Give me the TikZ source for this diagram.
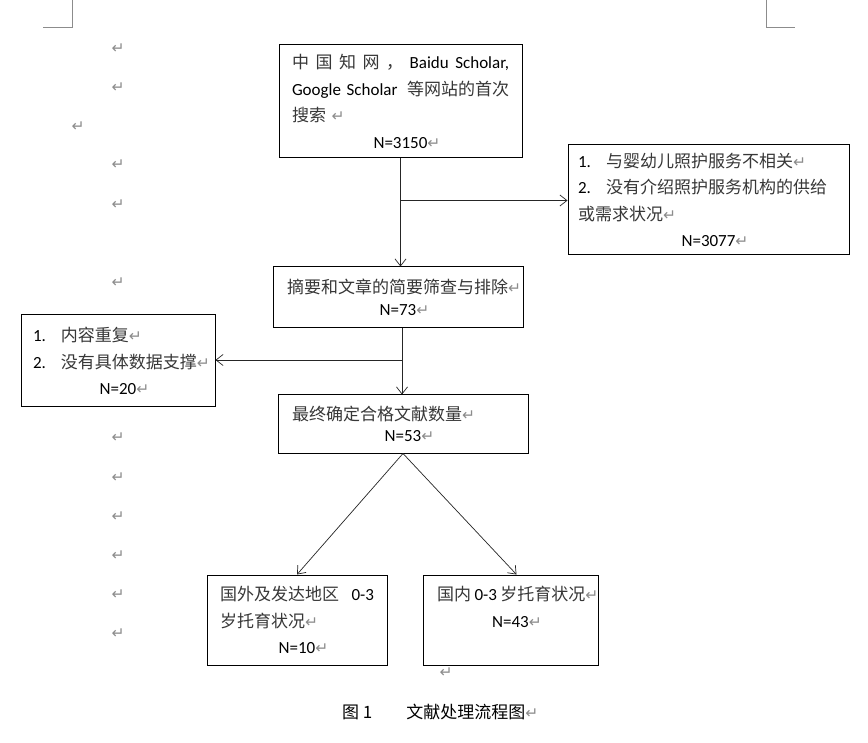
\documentclass[tikz,border=0pt]{standalone}
\usepackage{fontspec}
\setmainfont{Carlito}
\newfontfamily\zhfont{Noto Sans CJK SC}
\newfontfamily\symfont{DejaVu Sans}
\usetikzlibrary{
    arrows.meta,
    positioning,
    calc
}
\definecolor{markgray}{RGB}{140,140,140}
\definecolor{textgray}{RGB}{55,55,55}
% Word paragraph mark, Latin run, list label
\newcommand{\retmark}{{\color{markgray}\symfont\fontsize{15.5}{15.5}\selectfont ↵}}
\newcommand{\lat}[1]{{\normalfont\color{black}#1}}
\newcommand{\enumlabel}[1]{\makebox[28pt][l]{\lat{#1}}}
\newcommand{\countline}[1]{\makebox[\linewidth]{\lat{#1}\rlap{\retmark}}}
\tikzset{
    % --- Flow chart box ---
    block/.style = {
        rectangle, draw, line width=1pt, inner sep=0pt,
        align=left, text=textgray,
        font=\zhfont\fontsize{17}{26.5}\selectfont
    },
    % --- Box with single-spaced lines ---
    tight block/.style = {
        block, font=\zhfont\fontsize{17}{21.5}\selectfont
    },
    % --- Connector with open arrow head ---
    flow arrow/.style = {
        -{Straight Barb[length=7pt,width=11pt]},
        line width=0.7pt, draw=black!85
    },
    % --- Page corner marks ---
    crop mark/.style = {
        draw=markgray, line width=1pt
    },
    % --- Loose paragraph marks ---
    para mark/.style = {
        inner sep=0pt
    }
}
\begin{document}
\begin{tikzpicture}[x=1pt, y=-1pt]

\useasboundingbox (0, 0) rectangle (868, 743);
\fill[white] (0, 0) rectangle (868, 743);

% ---------------------------------------------------------
% Page corners and empty paragraphs
% ---------------------------------------------------------
\draw[crop mark] (43, 28) -- (72, 28) -- (72, 0);
\draw[crop mark] (766, 0) -- (766, 28) -- (795, 28);

\foreach \y [count=\i] in {49, 88, 165, 205, 283, 438, 478, 517, 556, 595, 634}
    \node[para mark] (Ret\i) at (118, \y) {\retmark};
\node[para mark] (RetIndent) at (78, 127) {\retmark};
\node[para mark] (RetEnd) at (446, 673) {\retmark};

% ---------------------------------------------------------
% Search and first exclusion
% ---------------------------------------------------------
\node[block, minimum width=243, minimum height=113, text width=217] (Search) at (400.5, 101.5) {%
    \makebox[\linewidth]{中\hfill 国\hfill 知\hfill 网\hfill ，\hfill\lat{Baidu}\hfill\lat{Scholar,}}\\
    \makebox[\linewidth]{\lat{Google Scholar}\hfill 等网站的首次}\\
    搜索 \retmark\\
    \countline{N=3150}
};

\node[block, minimum width=281, minimum height=110, text width=261] (ExclA) at (708.5, 200) {%
    \enumlabel{1.}与婴幼儿照护服务不相关\retmark\\
    \enumlabel{2.}没有介绍照护服务机构的供给\\
    或需求状况\retmark\\
    \countline{N=3077}
};

% ---------------------------------------------------------
% Screening and second exclusion
% ---------------------------------------------------------
\node[tight block, minimum width=250, minimum height=61, text width=222] (Screen) at (398, 297.5) {%
    摘要和文章的简要筛查与排除\retmark\\
    \countline{N=73}
};

\node[block, minimum width=194, minimum height=92, text width=170] (ExclB) at (118, 361) {%
    \enumlabel{1.}内容重复\retmark\\
    \enumlabel{2.}没有具体数据支撑\retmark\\
    \countline{N=20}
};

\node[tight block, minimum width=250, minimum height=58, text width=222] (Final) at (403, 424) {%
    最终确定合格文献数量\retmark\\
    \countline{N=53}
};

% ---------------------------------------------------------
% Split by region
% ---------------------------------------------------------
\node[block, minimum width=180, minimum height=90, text width=154] (Abroad) at (297, 620) {%
    \makebox[\linewidth]{国外及发达地区\hfill\lat{0-3}}\\
    岁托育状况\retmark\\
    \countline{N=10}
};

\node[block, minimum width=175, minimum height=90, text width=147] (Domestic) at (510.5, 620) {%
    \mbox{国内\hspace{3.5pt}\lat{0-3}\hspace{3.5pt}岁托育状况\retmark}\\
    \countline{N=43}\\
    \mbox{}
};

% ---------------------------------------------------------
% Connectors
% ---------------------------------------------------------
\coordinate (ForkA) at ($(Search.south) + (0, 42)$);
\draw[flow arrow] (Search.south) -- (Search.south |- Screen.north);
\draw[flow arrow] (ForkA) -- (ForkA -| ExclA.west);

\coordinate (ForkB) at (402, 360);
\draw[flow arrow] (Screen.south -| ForkB) -- (Final.north -| ForkB);
\draw[flow arrow] (ForkB) -- (ForkB -| ExclB.east);

\draw[flow arrow] (Final.south) -- (Abroad.north);
\draw[flow arrow] (Final.south) -- ([xshift=6pt]Domestic.north);

% ---------------------------------------------------------
% Caption
% ---------------------------------------------------------
\node[anchor=west, inner sep=0pt, font=\zhfont\fontsize{17}{20}\selectfont] (Caption) at (342, 712) {%
    图~1\hspace{34pt}文献处理流程图\retmark
};

\end{tikzpicture}
\end{document}
